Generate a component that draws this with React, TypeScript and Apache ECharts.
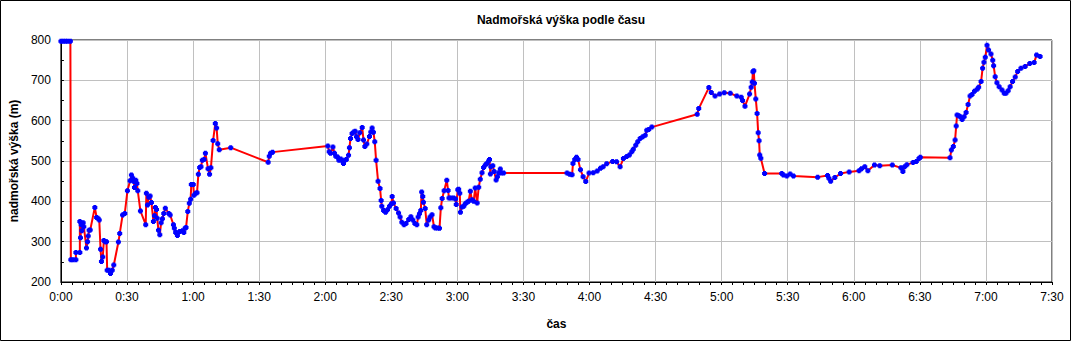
import React, { useEffect, useRef } from "react";
import * as echarts from "echarts";

const titleText = "Nadmořská výška podle času";
const xAxisName = "čas";
const yAxisName = "nadmořská výška (m)";

// time in minutes since start
const times: number[] = [
  0, 1, 2, 3, 4.3, 4.5, 5.5, 6.8, 6.8, 8.6, 8.6, 8.9, 9.2, 9.5, 10.1, 10.4, 11.6, 12.1, 12.4, 12.8, 13.3,
  15.4, 16.2, 16.8, 17.4, 18.0, 18.4, 19.0, 19.5, 20.1, 20.7, 21.0, 21.8, 22.5, 23.3, 24.0, 26.1, 26.7,
  28.0, 29.0, 30.2, 31.4, 32.0, 32.6, 33.1, 33.4, 34.0, 34.5, 34.9, 36.1, 38.5, 38.8, 39.3, 39.9, 40.5,
  41.1, 42.0, 42.5, 42.9, 43.4, 43.7, 44.3, 44.9, 45.5, 46.1, 46.7, 47.4, 49.0, 49.6, 51.1, 51.5, 52.1,
  52.9, 53.9, 55.2, 55.8, 56.4, 56.8, 57.6, 58.3, 58.9, 59.2, 60.1, 60.4, 61.2, 61.8, 62.4, 63.0, 63.6,
  64.2, 65.0, 65.6, 66.8, 67.5, 68.1, 69.1, 70.1, 70.7, 71.2, 71.9, 77.1, 94.1, 94.6, 95.2, 96.1, 121.2,
  121.8, 122.4, 123.5, 124.2, 124.8, 125.6, 126.2, 127.1, 127.7, 128.3, 128.9, 129.6, 130.6, 131.0, 131.5,
  132.2, 133.0, 133.6, 134.2, 134.9, 135.7, 136.8, 137.4, 138.0, 138.9, 140.1, 140.7, 141.3, 141.9, 142.5,
  143.1, 144.0, 144.9, 145.4, 145.7, 146.5, 147.4, 148.3, 149.2, 150.1, 150.4, 151.0, 152.2, 153.3, 154.0,
  154.8, 155.8, 156.7, 157.9, 158.9, 159.8, 160.7, 161.6, 162.2, 162.8, 163.4, 163.8, 164.3, 164.6, 165.4,
  166.1, 167.0, 167.6, 168.5, 169.4, 170.0, 171.0, 171.9, 172.5, 173.1, 174.0, 175.2, 175.8, 176.2, 177.1,
  178.3, 179.2, 179.5, 180.2, 180.6, 181.1, 181.4, 182.1, 182.9, 183.6, 184.4, 185.1, 185.9, 186.6, 187.4,
  188.1, 189.0, 189.7, 190.4, 191.2, 191.9, 192.7, 193.4, 194.2, 194.6, 195.0, 195.2, 196.1, 196.7, 197.6,
  198.2, 198.8, 199.5, 199.9, 201.0, 229.8, 231.0, 232.1, 232.5, 233.3, 234.1, 234.8, 235.9, 237.1, 238.3,
  239.8, 241.7, 243.5, 245.0, 246.2, 247.8, 250.5, 252.3, 253.9, 255.4, 256.9, 258.1, 259.2, 259.9, 261.0,
  261.9, 263.0, 264.2, 265.3, 266.0, 266.9, 268.3, 288.9, 289.6, 294.2, 295.3, 297.0, 299.1, 301.2, 303.9,
  306.9, 308.9, 309.5, 310.6, 312.7, 313.4, 313.9, 314.2, 314.6, 314.9, 315.5, 316.1, 316.6, 317.0, 317.3,
  317.8, 319.5, 327.3, 328.0, 329.6, 331.1, 332.6, 343.6, 348.1, 348.7, 349.5, 351.4, 354.0, 357.9, 362.4,
  363.5, 365.0, 366.4, 369.4, 371.8, 377.5, 381.4, 382.3, 383.1, 384.1, 386.9, 388.4, 389.6, 390.2, 403.7,
  404.3, 405.2, 406.0, 406.5, 406.9, 407.7, 408.3, 409.2, 410.1, 411.0, 411.9, 412.8, 413.7, 414.8, 416.0,
  416.7, 417.8, 418.5, 419.1, 419.7, 420.5, 421.2, 422.3, 423.1, 423.5, 424.2, 425.0, 426.0, 427.3, 428.3,
  429.1, 430.1, 431.0, 432.1, 433.3, 434.4, 435.9, 437.8, 439.9, 441.9, 443.0, 444.6,
];

// elevation in metres
const elevations: number[] = [
  797, 797, 797, 797, 797, 255, 255, 255, 273, 273, 350, 310, 342, 327, 347, 337, 284, 300, 314, 328, 329,
  385, 360, 358, 354, 281, 251, 262, 303, 300, 300, 229, 229, 221, 229, 242, 299, 320,
  366, 370, 426, 451, 465, 458, 449, 434, 452, 444, 426, 376, 342, 420, 391, 410, 413,
  397, 350, 364, 385, 380, 358, 328, 317, 347, 357, 370, 383, 370, 366, 342, 333, 323,
  315, 325, 327, 323, 333, 335, 375, 395, 405, 442, 442, 415, 420, 421, 467, 484, 486,
  502, 504, 519, 481, 467, 483, 551, 593, 582, 543, 528, 533, 497, 512, 519, 522, 537,
  523, 519, 535, 519, 512, 510, 502, 505, 500, 494, 502, 504, 514, 533, 556,
  568, 572, 574, 560, 553, 570, 583, 552, 536, 542, 561, 572, 582, 571, 548,
  502, 450, 432, 402, 388, 377, 373, 379, 388, 394, 412, 396, 382, 371, 361,
  348, 342, 345, 355, 362, 354, 345, 342, 361, 369, 377, 423, 412, 398, 382,
  342, 354, 361, 367, 337, 334, 334, 333, 384, 407, 426, 452, 427, 408, 408,
  408, 406, 392, 429, 430, 420, 373, 386, 388, 394, 398, 400, 425, 404, 400,
  433, 396, 435, 455, 471, 484, 490, 494, 500, 504, 468, 486, 488, 474, 453,
  461, 471, 480, 470, 470, 470, 467, 466, 494, 504, 509, 504, 478, 461, 449,
  470, 471, 475, 482, 486, 493, 499, 498, 486, 506, 511, 515, 523, 529, 539,
  548, 556, 560, 564, 576, 578, 584, 616, 630, 682, 670, 661, 666, 669, 668,
  661, 658, 650, 636, 666, 683, 696, 721, 724, 693, 654, 618, 570, 550, 515,
  507, 469, 469, 465, 463, 468, 463, 460, 464, 457, 450, 459, 469, 473, 476,
  481, 486, 476, 490, 488, 490, 483, 474, 486, 491, 496, 499, 506, 509, 508,
  527, 536, 552, 587, 614, 612, 610, 603, 610, 620, 640, 661, 665, 673, 678,
  683, 697, 730, 745, 757, 787, 775, 765, 750, 736, 709, 694, 684, 676, 668,
  668, 674, 684, 697, 708, 722, 730, 734, 742, 744, 763, 759,
];

const xMin = 0;
const xMax = 450;
const xStep = 30;
const yMin = 200;
const yMax = 800;
const yStep = 100;

function fmtTime(v: number): string {
  const h = Math.floor(v / 60);
  const m = Math.round(v % 60);
  return `${h}:${String(m).padStart(2, "0")}`;
}

export default function App() {
  const ref = useRef<HTMLDivElement>(null);
  useEffect(() => {
    document.body.style.margin = "0";
    if (!ref.current) return;
    const chart = echarts.init(ref.current, undefined, { renderer: "svg" });
    const font = "'Liberation Sans', Arial, sans-serif";
    const data = times.map((t, i) => [t, elevations[i]]);
    chart.setOption({
      animation: false,
      backgroundColor: "#ffffff",
      textStyle: { fontFamily: font },
      title: {
        text: titleText,
        left: 556,
        textAlign: "center",
        top: 9,
        textStyle: { fontSize: 12, fontWeight: "bold", color: "#000", fontFamily: font },
      },
      graphic: [
        {
          type: "rect",
          shape: { x: 0.5, y: 0.5, width: 1070, height: 340 },
          style: { fill: "none", stroke: "#000", lineWidth: 1 },
          silent: true,
        },
      ],
      grid: {
        left: 60,
        right: 19,
        top: 40,
        bottom: 59,
        show: true,
        borderColor: "#000",
        borderWidth: 1,
        backgroundColor: "transparent",
      },
      xAxis: {
        type: "value",
        min: xMin,
        max: xMax,
        interval: xStep,
        name: xAxisName,
        nameLocation: "middle",
        nameGap: 36,
        nameTextStyle: { fontSize: 12, fontWeight: "bold", color: "#000", fontFamily: font },
        axisLine: { show: true, lineStyle: { color: "#000", width: 1 } },
        axisTick: { show: true, length: 3, inside: false, lineStyle: { color: "#000" } },
        minorTick: { show: true, splitNumber: 6, length: 3, lineStyle: { color: "#000" } },
        axisLabel: {
          formatter: (v: number) => fmtTime(v),
          color: "#000",
          fontSize: 12,
          margin: 9,
          fontFamily: font,
        },
        splitLine: { show: true, lineStyle: { color: "#c0c0c0", width: 1 } },
      },
      yAxis: {
        type: "value",
        min: yMin,
        max: yMax,
        interval: yStep,
        name: yAxisName,
        nameLocation: "middle",
        nameGap: 38,
        nameRotate: 90,
        nameTextStyle: { fontSize: 12, fontWeight: "bold", color: "#000", fontFamily: font },
        axisLine: { show: true, lineStyle: { color: "#000", width: 1 } },
        axisTick: { show: true, length: 3, inside: true, lineStyle: { color: "#000" } },
        minorTick: { show: true, splitNumber: 2, length: 3, lineStyle: { color: "#000" } },
        axisLabel: { color: "#000", fontSize: 12, margin: 10, fontFamily: font },
        splitLine: { show: true, lineStyle: { color: "#c0c0c0", width: 1 } },
      },
      series: [
        {
          type: "line",
          data,
          showSymbol: true,
          symbol: "path://M1,0H4V1H5V4H4V5H1V4H0V1H1Z",
          symbolSize: 5,
          itemStyle: { color: "#0000ff", borderWidth: 0 },
          lineStyle: { color: "#ff0000", width: 2 },
          emphasis: { disabled: true },
          z: 3,
        },
      ],
    });
    return () => chart.dispose();
  }, []);
  return <div ref={ref} style={{ width: 1071, height: 341 }} />;
}
